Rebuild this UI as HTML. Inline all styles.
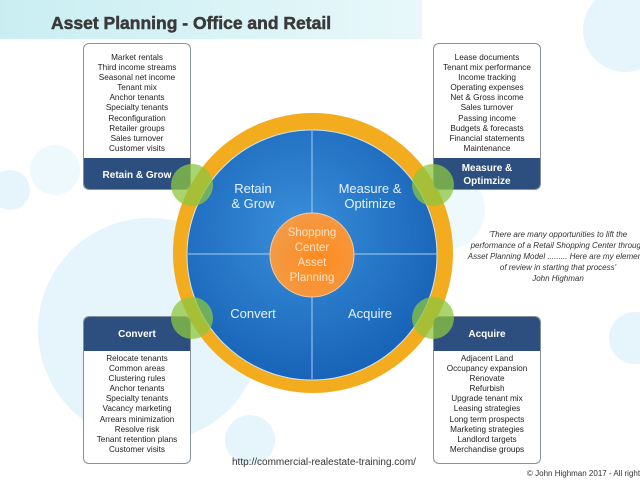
<!DOCTYPE html>
<html><head><meta charset="utf-8"><style>
body{margin:0;width:640px;height:480px;overflow:hidden;background:#fff;font-family:"Liberation Sans",sans-serif;position:relative}
.a{position:absolute}
.box{position:absolute;width:108px;background:#fff;border:1px solid #8a9099;border-radius:6px;overflow:hidden;box-sizing:border-box}
.list{text-align:center;font-size:8.2px;line-height:10.1px;color:#222;white-space:nowrap}
.hd{background:#2d4f7f;color:#fff;font-weight:bold;font-size:10px;text-align:center;display:flex;align-items:center;justify-content:center;line-height:13px}
.q{font-style:italic;font-size:8px;color:#333;text-align:center;line-height:11px;white-space:nowrap}
.clip{position:absolute;overflow:hidden}
</style></head><body>
<svg class="a" style="left:0;top:0" width="640" height="480">
<defs>
<radialGradient id="bl" cx="45%" cy="40%" r="65%"><stop offset="0" stop-color="#3a8fdb"/><stop offset="1" stop-color="#1560b5"/></radialGradient>
<radialGradient id="or" cx="60%" cy="55%" r="60%"><stop offset="0" stop-color="#ff8b1e"/><stop offset="1" stop-color="#f39a47"/></radialGradient>
<linearGradient id="tb" x1="0" x2="1"><stop offset="0" stop-color="#c9eef2"/><stop offset="1" stop-color="#e8f8fa"/></linearGradient>
</defs>
<circle cx="150" cy="330" r="112" fill="#e6f5fc"/>
<circle cx="250" cy="440" r="25" fill="#e6f5fc"/>
<circle cx="625" cy="30" r="42" fill="#e6f5fc"/>
<circle cx="635" cy="338" r="26" fill="#e6f5fc"/>
<circle cx="10" cy="190" r="20" fill="#e6f5fc"/>
<circle cx="55" cy="170" r="25" fill="#eef9fd"/>
<circle cx="445" cy="210" r="40" fill="#eef9fd"/>
<rect x="0" y="0" width="422" height="39" fill="url(#tb)"/>
<circle cx="313" cy="253" r="140" fill="#f3ac1e"/>
<circle cx="312" cy="255" r="125" fill="url(#bl)" stroke="#cde3f5" stroke-width="1"/>
<line x1="312" y1="131" x2="312" y2="379" stroke="#a9cdf0" stroke-width="1"/>
<line x1="188" y1="254" x2="437" y2="254" stroke="#a9cdf0" stroke-width="1"/>
<circle cx="312" cy="255" r="42" fill="url(#or)" stroke="#f7c9a0" stroke-width="1"/>
<text x="312" y="236" font-size="11.5" fill="#fde3c8" text-anchor="middle">Shopping</text>
<text x="312" y="251" font-size="11.5" fill="#fde3c8" text-anchor="middle">Center</text>
<text x="312" y="266" font-size="11.5" fill="#fde3c8" text-anchor="middle">Asset</text>
<text x="312" y="281" font-size="11.5" fill="#fde3c8" text-anchor="middle">Planning</text>
<g font-size="13" fill="#e8f2ff" text-anchor="middle">
<text x="253" y="193">Retain</text><text x="253" y="208">&amp; Grow</text>
<text x="370" y="193">Measure &amp;</text><text x="370" y="208">Optimize</text>
<text x="253" y="318">Convert</text><text x="370" y="318">Acquire</text>
</g>
<text x="51" y="29" font-size="17.5" font-weight="bold" fill="#3a3a3a" stroke="#3a3a3a" stroke-width="0.5">Asset Planning - Office and Retail</text>
</svg>
<div class="box" style="left:83px;top:43px;height:147px">
<div class="list" style="padding-top:9px;height:103px">Market rentals<br>Third income streams<br>Seasonal net income<br>Tenant mix<br>Anchor tenants<br>Specialty tenants<br>Reconfiguration<br>Retailer groups<br>Sales turnover<br>Customer visits</div>
<div class="hd" style="height:34px;margin-top:2px">Retain &amp; Grow</div></div>
<div class="box" style="left:433px;top:43px;height:147px">
<div class="list" style="padding-top:9px;height:103px">Lease documents<br>Tenant mix performance<br>Income tracking<br>Operating expenses<br>Net &amp; Gross income<br>Sales turnover<br>Passing income<br>Budgets &amp; forecasts<br>Financial statements<br>Maintenance</div>
<div class="hd" style="height:34px;margin-top:2px">Measure &amp;<br>Optimzize</div></div>
<div class="box" style="left:83px;top:316px;height:148px">
<div class="hd" style="height:34px">Convert</div>
<div class="list" style="padding-top:3px">Relocate tenants<br>Common areas<br>Clustering rules<br>Anchor tenants<br>Specialty tenants<br>Vacancy marketing<br>Arrears minimization<br>Resolve risk<br>Tenant retention plans<br>Customer visits</div></div>
<div class="box" style="left:433px;top:316px;height:148px">
<div class="hd" style="height:34px">Acquire</div>
<div class="list" style="padding-top:3px">Adjacent Land<br>Occupancy expansion<br>Renovate<br>Refurbish<br>Upgrade tenant mix<br>Leasing strategies<br>Long term prospects<br>Marketing strategies<br>Landlord targets<br>Merchandise groups</div></div>
<svg class="a" style="left:0;top:0" width="640" height="480">
<g fill="#8cc63f" fill-opacity="0.75">
<circle cx="192" cy="185" r="21"/><circle cx="433" cy="185" r="21"/>
<circle cx="192" cy="318" r="21"/><circle cx="433" cy="318" r="21"/></g>
</svg>
<div class="clip" style="left:458px;top:229px;width:182px;height:60px"><div class="q" style="width:200px">'There are many opportunities to lift the<br>performance of a Retail Shopping Center through<br>Asset Planning Model ......... Here are my elements<br>of review in starting that process'<br>John Highman</div></div>
<div class="a" style="left:232px;top:457px;font-size:10px;color:#333">http://commercial-realestate-training.com/</div>
<div class="clip" style="left:527px;top:469px;width:113px;height:11px"><div style="font-size:8px;color:#333;white-space:nowrap">© John Highman 2017 - All rights reserved</div></div>
</body></html>
